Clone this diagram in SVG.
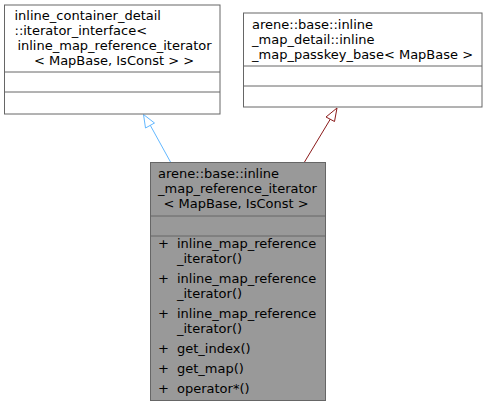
<svg xmlns="http://www.w3.org/2000/svg" width="488" height="407" viewBox="0 0 488 407">
<style>
text { font-family: "DejaVu Sans", sans-serif; font-size: 13px; fill: #000; }
.box { fill: #ffffff; stroke: #666666; stroke-width: 1; }
.cur { fill: #999999; stroke: #666666; stroke-width: 1; }
.div { stroke: #666666; stroke-width: 1; fill: none; }
.mid { text-anchor: middle; }
</style>
<rect width="488" height="407" fill="#ffffff"/>
<g id="connectors">
  <path d="M170.5,162 L149,123" stroke="#63b8ff" fill="none"/>
  <polygon points="143.5,114.5 145.5,128 154.5,123" fill="#ffffff" stroke="#63b8ff"/>
  <path d="M304.5,162 L331,118" stroke="#8b1a1a" fill="none"/>
  <polygon points="337,108 326,117 334.5,121.5" fill="#ffffff" stroke="#8b1a1a"/>
</g>
<g id="node_iterator_interface">
  <rect class="box" x="4.5" y="5" width="215.5" height="109"/>
  <line class="div" x1="4.5" y1="72" x2="220" y2="72"/>
  <line class="div" x1="4.5" y1="92" x2="220" y2="92"/>
  <text x="14.5" y="20">inline_container_detail</text>
  <text x="14.5" y="35">::iterator_interface&lt;</text>
  <text class="mid" x="114.5" y="50">inline_map_reference_iterator</text>
  <text class="mid" x="114" y="64.5">&lt; MapBase, IsConst &gt; &gt;</text>
</g>
<g id="node_passkey_base">
  <rect class="box" x="243.5" y="13" width="238.5" height="94"/>
  <line class="div" x1="243.5" y1="66" x2="482" y2="66"/>
  <line class="div" x1="243.5" y1="86" x2="482" y2="86"/>
  <text x="252" y="28.5">arene::base::inline</text>
  <text x="252" y="43.5">_map_detail::inline</text>
  <text x="252" y="58.5">_map_passkey_base&lt; MapBase &gt;</text>
</g>
<g id="node_reference_iterator">
  <rect class="cur" x="150.5" y="162.5" width="175" height="238"/>
  <line class="div" x1="150.5" y1="216" x2="325.5" y2="216"/>
  <line class="div" x1="150.5" y1="236" x2="325.5" y2="236"/>
  <text x="158" y="178">arene::base::inline</text>
  <text x="158" y="193">_map_reference_iterator</text>
  <text class="mid" x="236" y="207.5">&lt; MapBase, IsConst &gt;</text>
  <text x="158" y="248">+</text><text x="177" y="248">inline_map_reference</text>
  <text x="177" y="263">_iterator()</text>
  <text x="158" y="283">+</text><text x="177" y="283">inline_map_reference</text>
  <text x="177" y="298">_iterator()</text>
  <text x="158" y="318">+</text><text x="177" y="318">inline_map_reference</text>
  <text x="177" y="333">_iterator()</text>
  <text x="158" y="353">+</text><text x="177" y="353">get_index()</text>
  <text x="158" y="373">+</text><text x="177" y="373">get_map()</text>
  <text x="158" y="393">+</text><text x="177" y="393">operator*()</text>
</g>
</svg>
